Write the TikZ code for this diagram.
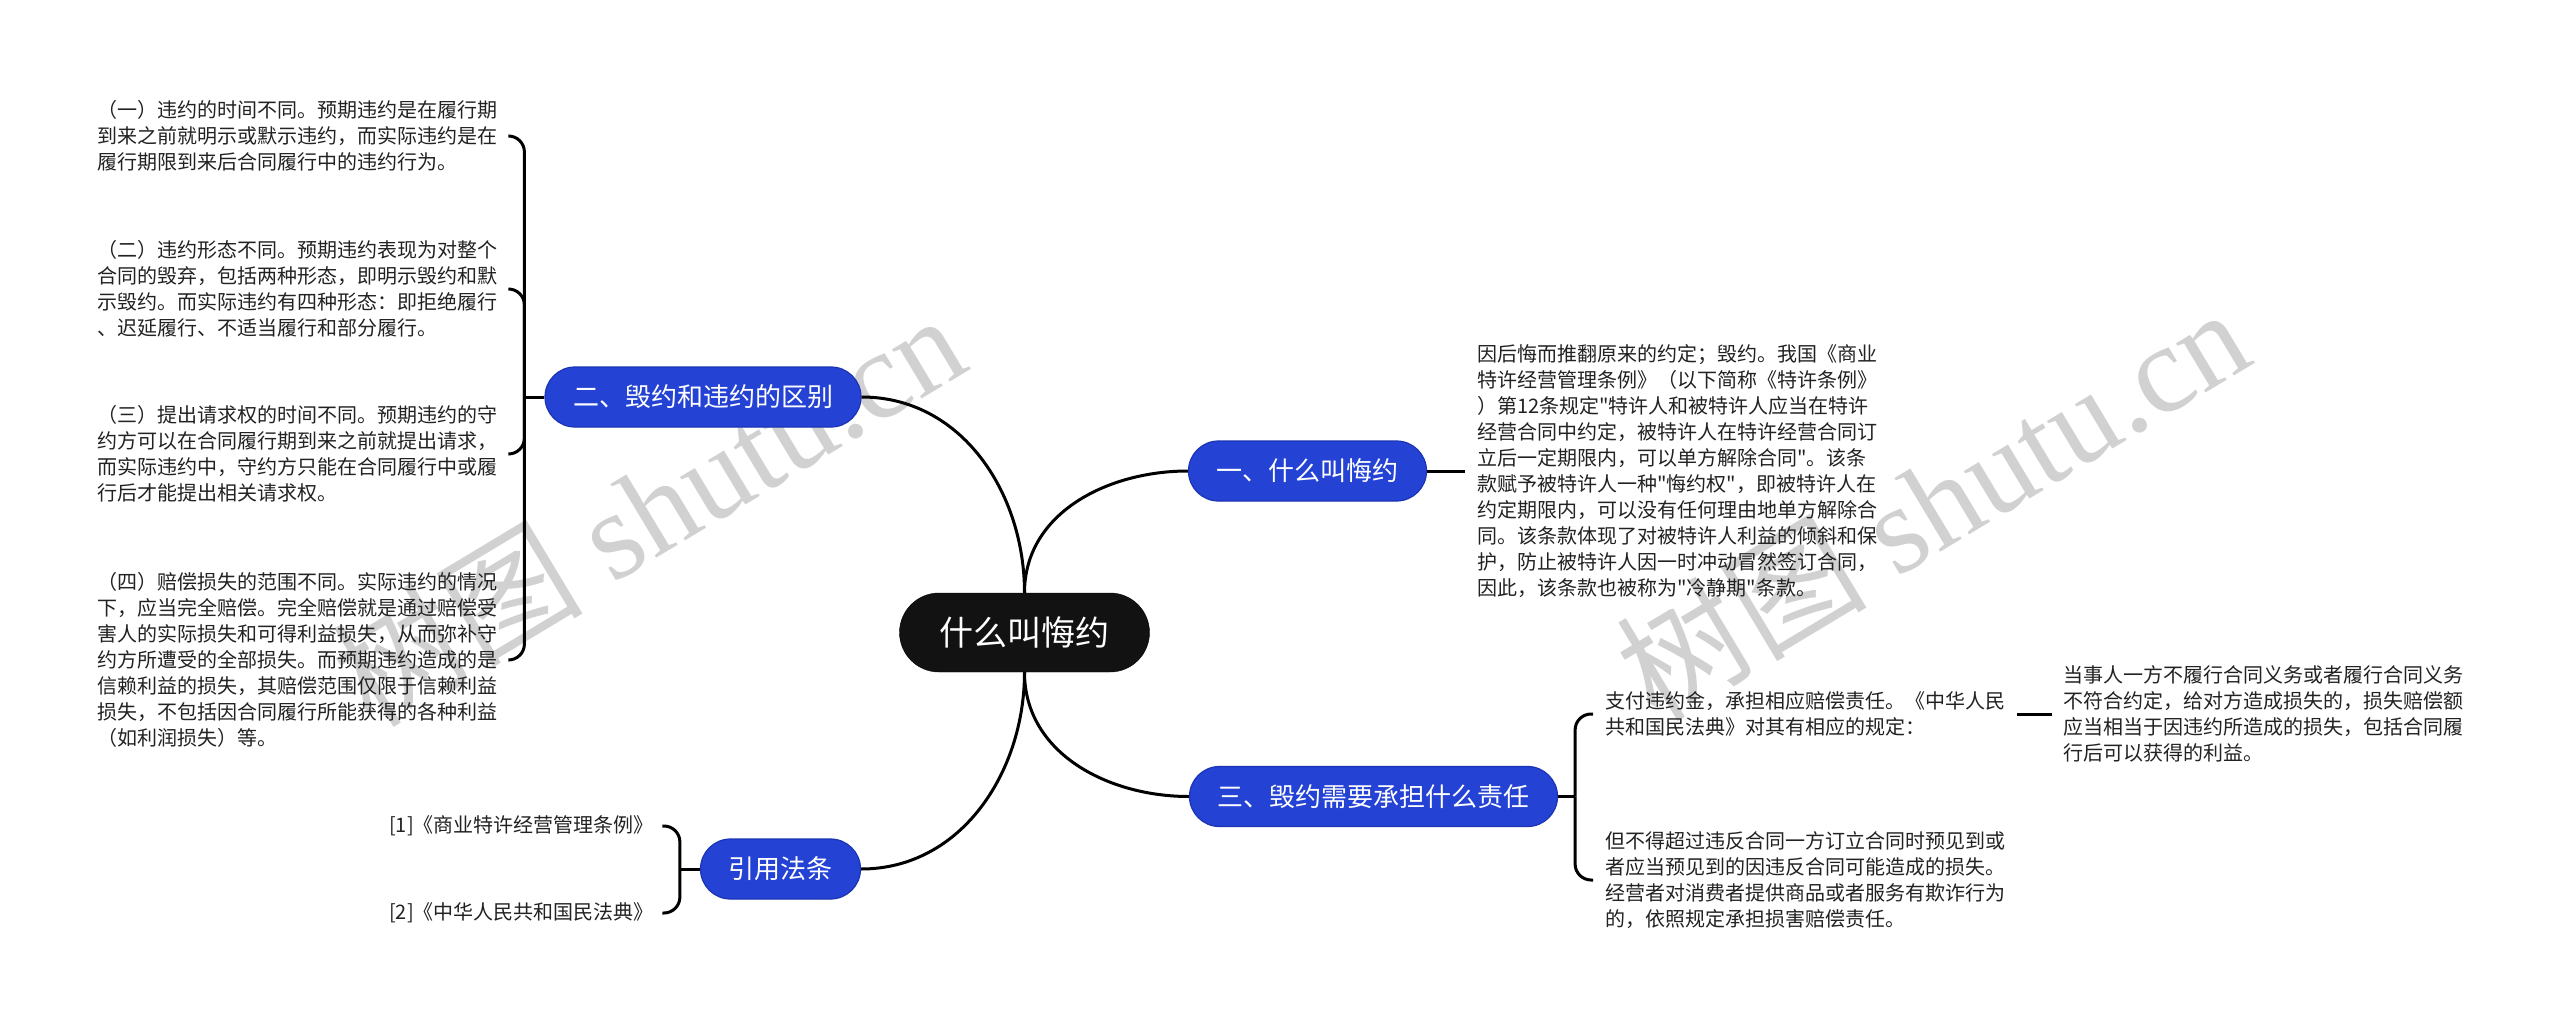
\documentclass[tikz,border=0pt]{standalone}
\usepackage{fontspec}
\setmainfont{Noto Sans CJK SC}[Ligatures=TeXOff]
\newfontfamily\wmserif{Liberation Serif}
\definecolor{nodeblue}{RGB}{36,66,212}
\definecolor{nodeedge}{RGB}{28,52,180}
\definecolor{txt}{RGB}{34,34,34}
\begin{document}
\begin{tikzpicture}[x=1pt,y=-1pt,
  conn/.style={line width=3pt, black},
  brk/.style={line width=3pt, black, rounded corners=16pt},
  topicbox/.style={rectangle, rounded corners=30pt, fill=nodeblue, draw=nodeedge, line width=1.2pt, text=white, font=\fontsize{26}{30}\selectfont, minimum height=60pt, inner xsep=28pt, inner ysep=0pt},
  rootbox/.style={rectangle, rounded corners=39.5pt, fill=black!93, draw=black, text=white, font=\fontsize{34}{40}\selectfont, minimum height=79pt, inner xsep=40pt, inner ysep=0pt},
  leaf/.style={text=txt, font=\fontsize{20}{26}\selectfont, align=left, inner sep=0pt, anchor=west, text width=400pt},
  wmark/.style={rotate=31, text=black!18, inner sep=0pt, font=\fontsize{125}{125}\selectfont}]
\fill[white] (0,0) rectangle (2560,1027);
\useasboundingbox (0,0) rectangle (2560,1027);

% watermarks
\node[wmark] (wm1) at (648,508) {树图\hspace{0.25em}{\wmserif shutu.cn}};
\node[wmark] (wm2) at (1932,502) {树图\hspace{0.25em}{\wmserif shutu.cn}};

% main nodes
\node[rootbox] (c) at (1024.5,632.5) {什么叫悔约};
\node[topicbox] (n1) at (1307.5,471) {一、什么叫悔约};
\node[topicbox] (n2) at (703,397) {二、毁约和违约的区别};
\node[topicbox] (n3) at (1373.5,796.5) {三、毁约需要承担什么责任};
\node[topicbox] (n4) at (780.5,869) {引用法条};

% connectors from root
\draw[conn] (c.north) .. controls +(0,-80) and +(-80,0) .. (n1.west);
\draw[conn] (c.north) .. controls +(0,-100) and +(100,0) .. (n2.east);
\draw[conn] (c.south) .. controls +(0,81) and +(-81,0) .. (n3.west);
\draw[conn] (c.south) .. controls +(0,100) and +(100,0) .. (n4.east);

% left texts
\node[leaf] (t1) at (97,136) {（一）违约的时间不同。预期违约是在履行期\\到来之前就明示或默示违约，而实际违约是在\\履行期限到来后合同履行中的违约行为。};
\node[leaf] (t2) at (97,289) {（二）违约形态不同。预期违约表现为对整个\\合同的毁弃，包括两种形态，即明示毁约和默\\示毁约。而实际违约有四种形态：即拒绝履行\\、迟延履行、不适当履行和部分履行。};
\node[leaf] (t3) at (97,454) {（三）提出请求权的时间不同。预期违约的守\\约方可以在合同履行期到来之前就提出请求，\\而实际违约中，守约方只能在合同履行中或履\\行后才能提出相关请求权。};
\node[leaf] (t4) at (97,660) {（四）赔偿损失的范围不同。实际违约的情况\\下，应当完全赔偿。完全赔偿就是通过赔偿受\\害人的实际损失和可得利益损失，从而弥补守\\约方所遭受的全部损失。而预期违约造成的是\\信赖利益的损失，其赔偿范围仅限于信赖利益\\损失，不包括因合同履行所能获得的各种利益\\（如利润损失）等。};

\coordinate (b2) at ([xshift=-20pt]n2.west);
\draw[conn] (n2.west) -- (b2);
\draw[brk] (b2) |- ([xshift=11pt]t1.east);
\draw[brk] (b2) |- ([xshift=11pt]t2.east);
\draw[brk] (b2) |- ([xshift=11pt]t3.east);
\draw[brk] (b2) |- ([xshift=11pt]t4.east);

% right text of branch 1
\node[leaf] (r1) at (1477,471) {因后悔而推翻原来的约定；毁约。我国《商业\\特许经营管理条例》（以下简称《特许条例》\\）第12条规定"特许人和被特许人应当在特许\\经营合同中约定，被特许人在特许经营合同订\\立后一定期限内，可以单方解除合同"。该条\\款赋予被特许人一种"悔约权"，即被特许人在\\约定期限内，可以没有任何理由地单方解除合\\同。该条款体现了对被特许人利益的倾斜和保\\护，防止被特许人因一时冲动冒然签订合同，\\因此，该条款也被称为"冷静期"条款。};
\draw[conn] (n1.east) -- ([xshift=-12pt]r1.west);

% branch 3
\coordinate (b3) at ([xshift=17pt]n3.east);
\draw[conn] (n3.east) -- (b3);
\node[leaf] (tA) at (1605,714) {支付违约金，承担相应赔偿责任。《中华人民\\共和国民法典》对其有相应的规定：};
\node[leaf] (tB) at (1605,880) {但不得超过违反合同一方订立合同时预见到或\\者应当预见到的因违反合同可能造成的损失。\\经营者对消费者提供商品或者服务有欺诈行为\\的，依照规定承担损害赔偿责任。};
\draw[brk] (b3) |- ([xshift=-12pt]tA.west);
\draw[brk] (b3) |- ([xshift=-12pt]tB.west);
\node[leaf] (tC) at (2063,714) {当事人一方不履行合同义务或者履行合同义务\\不符合约定，给对方造成损失的，损失赔偿额\\应当相当于因违约所造成的损失，包括合同履\\行后可以获得的利益。};
\draw[conn] ([xshift=12pt]tA.east) -- ([xshift=-11pt]tC.west);

% references
\node[leaf, text width=260pt] (f1) at (389,826) {[1]《商业特许经营管理条例》};
\node[leaf, text width=260pt] (f2) at (389,913) {[2]《中华人民共和国民法典》};
\coordinate (b4) at ([xshift=-20pt]n4.west);
\draw[conn] (n4.west) -- (b4);
\draw[brk] (b4) |- ([xshift=13pt]f1.east);
\draw[brk] (b4) |- ([xshift=13pt]f2.east);
\end{tikzpicture}
\end{document}
